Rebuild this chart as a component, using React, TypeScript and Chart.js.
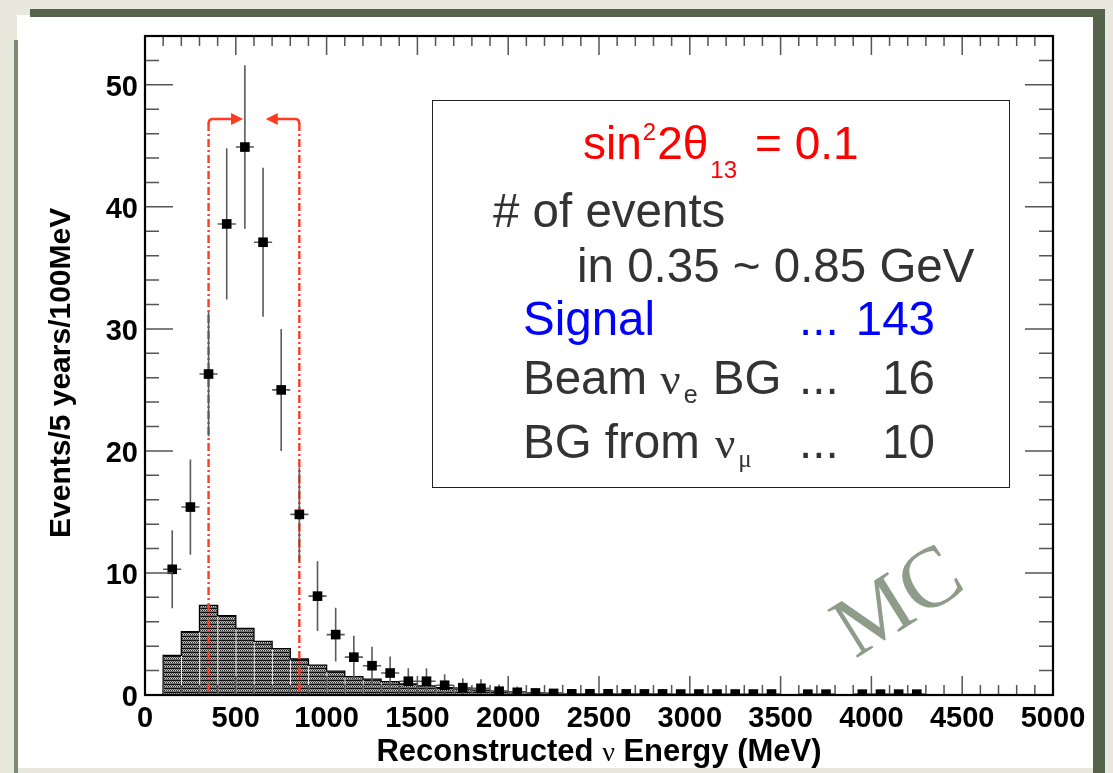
import React, { useEffect, useRef } from 'react';
import { Chart, registerables } from 'chart.js';

Chart.register(...registerables);

// ---------------- data ----------------
// background histogram (100 MeV bins, centers in MeV)
const bgBinCenters = [150, 250, 350, 450, 550, 650, 750, 850, 950, 1050, 1150, 1250, 1350, 1450, 1550, 1650, 1750, 1850, 1950, 2050, 2150, 2250, 2350, 2450];
const bgCounts = [3.25, 5.2, 7.35, 6.5, 5.45, 4.4, 3.8, 2.95, 2.45, 1.95, 1.5, 1.3, 1.1, 0.9, 0.75, 0.6, 0.5, 0.4, 0.32, 0.25, 0.2, 0.15, 0.12, 0.1];

// MC events (signal + background) with statistical errors
const evCenters = [150, 250, 350, 450, 550, 650, 750, 850, 950, 1050, 1150, 1250, 1350, 1450, 1550, 1650, 1750, 1850, 1950, 2050, 2150, 2250, 2350, 2450, 2550, 2650, 2750, 2850, 2950, 3050, 3150, 3250, 3350, 3450, 3650, 3750, 3950, 4050, 4150, 4250];
const evCounts = [10.3, 15.4, 26.3, 38.6, 44.9, 37.1, 25.0, 14.8, 8.1, 4.95, 3.1, 2.4, 1.8, 1.13, 1.13, 0.8, 0.6, 0.55, 0.31, 0.22, 0.17, 0.13, 0.1, 0.1, 0.1, 0.09, 0.09, 0.09, 0.08, 0.08, 0.08, 0.08, 0.08, 0.08, 0.07, 0.07, 0.07, 0.07, 0.07, 0.07];
const evErrors = [3.2, 3.9, 5.1, 6.2, 6.7, 6.1, 5.0, 3.85, 2.85, 2.2, 1.75, 1.55, 1.35, 1.07, 1.07, 0.9, 0.77, 0.74, 0.55, 0.47, 0.41, 0.36, 0.32, 0.32, 0.32, 0.3, 0.3, 0.3, 0.28, 0.28, 0.28, 0.28, 0.28, 0.28, 0.26, 0.26, 0.26, 0.26, 0.26, 0.26];
const BIN_HALF_WIDTH = 50;

// axes
const X_MIN = 0;
const X_MAX = 5000;
const Y_MIN = 0;
const Y_MAX = 54;
const xTickLabels = [0, 500, 1000, 1500, 2000, 2500, 3000, 3500, 4000, 4500, 5000];
const yTickLabels = [0, 10, 20, 30, 40, 50];
const X_MINOR_STEP = 100;
const Y_MINOR_STEP = 2;

// energy window annotation (MeV / events)
const CUT_LOW = 350;
const CUT_HIGH = 850;
const ARROW_LEVEL = 47.2;
const ARROW_TIP_LOW = 540;
const ARROW_TIP_HIGH = 665;

const FONT = '"Liberation Sans", Arial, sans-serif';
const SERIF = '"Liberation Serif", "Times New Roman", serif';

function makePattern(ctx: CanvasRenderingContext2D): CanvasPattern | string {
  const c = document.createElement('canvas');
  c.width = 4;
  c.height = 4;
  const p = c.getContext('2d');
  if (!p) return '#707070';
  p.fillStyle = '#111111';
  p.fillRect(0, 0, 4, 1);
  p.fillStyle = '#a8a8a8';
  p.fillRect(0, 1, 4, 1);
  p.fillStyle = '#5a5a5a';
  p.fillRect(1, 1, 1, 1);
  p.fillRect(3, 1, 1, 1);
  p.fillStyle = '#d0d0d0';
  p.fillRect(0, 2, 4, 1);
  p.fillStyle = '#2a2a2a';
  p.fillRect(0, 2, 1, 1);
  p.fillRect(2, 2, 1, 1);
  p.fillStyle = '#707070';
  p.fillRect(0, 3, 4, 1);
  return ctx.createPattern(c, 'repeat') || '#707070';
}

const drawSegments = (
  ctx: CanvasRenderingContext2D,
  x: number,
  y: number,
  segs: { t: string; font: string; dy?: number; gap?: number; color?: string }[],
  color: string
) => {
  let cx = x;
  segs.forEach((s) => {
    ctx.font = s.font;
    ctx.fillStyle = s.color || color;
    cx += s.gap || 0;
    ctx.fillText(s.t, cx, y + (s.dy || 0));
    cx += ctx.measureText(s.t).width;
  });
  return cx;
};

const rootPlugin = {
  id: 'rootStyle',
  afterDatasetDraw(chart: any, args: any) {
    if (args.index !== 0) return;
    const ctx: CanvasRenderingContext2D = chart.ctx;
    const xs = chart.scales.x;
    const ys = chart.scales.y;
    const area = chart.chartArea;
    const px = (v: number) => xs.getPixelForValue(v);
    const py = (v: number) => ys.getPixelForValue(v);

    // step outline of histogram
    const bars = chart.getDatasetMeta(0).data;
    ctx.save();
    ctx.strokeStyle = '#000';
    ctx.lineWidth = 1.3;
    ctx.beginPath();
    bars.forEach((b: any, i: number) => {
      const { x, y, base, width } = b.getProps(['x', 'y', 'base', 'width'], true);
      const l = x - width / 2;
      const r = x + width / 2;
      if (i === 0) {
        ctx.moveTo(l, base);
      }
      ctx.lineTo(l, y);
      ctx.lineTo(r, y);
      if (i === bars.length - 1) ctx.lineTo(r, base);
    });
    ctx.stroke();

    // energy window cuts
    ctx.strokeStyle = '#ff3a22';
    ctx.fillStyle = '#ff3a22';
    ctx.lineWidth = 2.4;
    const yA = py(ARROW_LEVEL);
    [
      [CUT_LOW, ARROW_TIP_LOW],
      [CUT_HIGH, ARROW_TIP_HIGH],
    ].forEach(([cut, tip]) => {
      const xc = px(cut);
      const xt = px(tip);
      const dir = Math.sign(xt - xc);
      ctx.setLineDash([8, 3, 2, 3]);
      ctx.beginPath();
      ctx.moveTo(xc, yA + 4);
      ctx.lineTo(xc, area.bottom);
      ctx.stroke();
      ctx.setLineDash([]);
      ctx.beginPath();
      ctx.moveTo(xc, yA + 5);
      ctx.quadraticCurveTo(xc, yA, xc + dir * 4, yA);
      ctx.lineTo(xt - dir * 10, yA);
      ctx.stroke();
      ctx.beginPath();
      ctx.moveTo(xt, yA);
      ctx.lineTo(xt - dir * 12, yA - 6);
      ctx.lineTo(xt - dir * 12, yA + 6);
      ctx.closePath();
      ctx.fill();
    });

    // error bars
    ctx.beginPath();
    ctx.rect(area.left, area.top, area.right - area.left, area.bottom - area.top);
    ctx.clip();
    ctx.strokeStyle = '#5a5a5a';
    ctx.lineWidth = 1.6;
    evCenters.forEach((c, i) => {
      const x = px(c);
      const y = py(evCounts[i]);
      ctx.beginPath();
      ctx.moveTo(px(c - BIN_HALF_WIDTH), y);
      ctx.lineTo(px(c + BIN_HALF_WIDTH), y);
      ctx.moveTo(x, py(evCounts[i] + evErrors[i]));
      ctx.lineTo(x, py(evCounts[i] - evErrors[i]));
      ctx.stroke();
    });
    ctx.restore();
  },
  afterDraw(chart: any) {
    const ctx: CanvasRenderingContext2D = chart.ctx;
    const xs = chart.scales.x;
    const ys = chart.scales.y;
    const { left, right, top, bottom } = chart.chartArea;
    const px = (v: number) => xs.getPixelForValue(v);
    const py = (v: number) => ys.getPixelForValue(v);
    ctx.save();

    // inside ticks
    ctx.strokeStyle = '#555';
    ctx.lineWidth = 1.5;
    ctx.beginPath();
    for (let v = X_MIN; v <= X_MAX; v += X_MINOR_STEP) {
      const len = xTickLabels.includes(v) ? 19 : 10;
      const x = px(v);
      ctx.moveTo(x, bottom);
      ctx.lineTo(x, bottom - len);
      ctx.moveTo(x, top);
      ctx.lineTo(x, top + len);
    }
    for (let v = Y_MIN; v <= Y_MAX; v += Y_MINOR_STEP) {
      const len = yTickLabels.includes(v) ? 28 : 14;
      const y = py(v);
      ctx.moveTo(left, y);
      ctx.lineTo(left + len, y);
      ctx.moveTo(right, y);
      ctx.lineTo(right - len, y);
    }
    ctx.stroke();

    // frame
    ctx.strokeStyle = '#000';
    ctx.lineWidth = 2.2;
    ctx.strokeRect(left, top, right - left, bottom - top);

    // axis titles
    ctx.fillStyle = '#000';
    ctx.textBaseline = 'alphabetic';
    ctx.textAlign = 'left';
    const boldX = `bold 31px ${FONT}`;
    const segs = [
      { t: 'Reconstructed ', font: boldX },
      { t: 'ν', font: `28px ${SERIF}` },
      { t: ' Energy (MeV)', font: boldX },
    ];
    let total = 0;
    segs.forEach((s) => {
      ctx.font = s.font;
      total += ctx.measureText(s.t).width;
    });
    drawSegments(ctx, (left + right) / 2 - total / 2, 761, segs, '#000');

    ctx.save();
    ctx.translate(70, 538);
    ctx.rotate(-Math.PI / 2);
    ctx.font = `bold 30px ${FONT}`;
    ctx.fillText('Events/5 years/100MeV', 0, 0);
    ctx.restore();

    // info box
    ctx.fillStyle = '#fff';
    ctx.fillRect(432, 100, 577, 387);
    ctx.strokeStyle = '#222';
    ctx.lineWidth = 1;
    ctx.strokeRect(432.5, 100.5, 577, 387);

    const red = `46px ${FONT}`;
    const big = `47.5px ${FONT}`;
    const small = `24px ${FONT}`;
    drawSegments(
      ctx,
      583,
      159,
      [
        { t: 'sin', font: red },
        { t: '2', font: small, dy: -19, gap: 1 },
        { t: '2θ', font: red, gap: 1 },
        { t: '13', font: small, dy: 19, gap: 2 },
        { t: '= 0.1', font: red, gap: 18 },
      ],
      '#ff0000'
    );

    const grey = '#333333';
    ctx.fillStyle = grey;
    ctx.font = big;
    ctx.fillText('# of events', 493, 227);
    ctx.fillText('in 0.35 ~ 0.85 GeV', 577, 282);

    ctx.fillStyle = '#0000ff';
    ctx.fillText('Signal', 523, 335);
    ctx.fillText('...', 799, 335);
    ctx.textAlign = 'right';
    ctx.fillText('143', 935, 335);
    ctx.textAlign = 'left';

    const greek = `45px ${SERIF}`;
    const greekSub = `25px ${SERIF}`;
    drawSegments(
      ctx,
      523,
      394,
      [
        { t: 'Beam ', font: big },
        { t: 'ν', font: greek },
        { t: 'e', font: `25px ${FONT}`, dy: 9, gap: 3 },
        { t: ' BG', font: big, gap: 2 },
      ],
      grey
    );
    drawSegments(
      ctx,
      523,
      458,
      [
        { t: 'BG from ', font: big },
        { t: 'ν', font: greek, gap: 2 },
        { t: 'μ', font: greekSub, dy: 9, gap: 3 },
      ],
      grey
    );
    ctx.font = big;
    ctx.fillStyle = grey;
    ctx.fillText('...', 799, 394);
    ctx.fillText('...', 799, 458);
    ctx.textAlign = 'right';
    ctx.fillText('16', 935, 394);
    ctx.fillText('10', 935, 458);
    ctx.textAlign = 'left';

    // MC watermark
    ctx.save();
    ctx.translate(855, 659);
    ctx.rotate((-32 * Math.PI) / 180);
    ctx.font = `86px ${SERIF}`;
    ctx.fillStyle = '#8e9c89';
    ctx.fillText('MC', 0, 0);
    ctx.restore();

    ctx.restore();
  },
};

export default function App() {
  const canvasRef = useRef<HTMLCanvasElement | null>(null);

  useEffect(() => {
    const canvas = canvasRef.current;
    if (!canvas) return;
    const ctx = canvas.getContext('2d');
    if (!ctx) return;
    const pattern = makePattern(ctx);

    const tickFont = { family: FONT, size: 29, weight: 'bold' as const };

    const chart = new Chart(ctx, {
      type: 'bar',
      data: {
        datasets: [
          {
            type: 'bar',
            label: 'Background',
            data: bgBinCenters.map((x, i) => ({ x, y: bgCounts[i] })),
            backgroundColor: pattern as any,
            borderColor: 'rgba(255,255,255,0.6)',
            borderWidth: { left: 1, right: 0, top: 0, bottom: 0 },
            barPercentage: 1,
            categoryPercentage: 1,
            order: 2,
          } as any,
          {
            type: 'scatter',
            label: 'MC events',
            data: evCenters.map((x, i) => ({ x, y: evCounts[i] })),
            pointStyle: 'rect',
            pointRadius: 6.8,
            backgroundColor: '#000',
            borderColor: '#000',
            borderWidth: 0,
            order: 1,
          } as any,
        ],
      },
      options: {
        responsive: false,
        animation: false,
        devicePixelRatio: 1,
        layout: { padding: { top: 36, right: 60, bottom: 0, left: 0 } },
        plugins: {
          legend: { display: false },
          tooltip: { enabled: false },
        },
        scales: {
          x: {
            type: 'linear',
            min: X_MIN,
            max: X_MAX,
            offset: false,
            grid: { display: false, drawTicks: false },
            border: { display: false },
            afterBuildTicks: (s: any) => {
              s.ticks = xTickLabels.map((v) => ({ value: v }));
            },
            ticks: {
              autoSkip: false,
              maxRotation: 0,
              padding: 7,
              color: '#000',
              font: tickFont,
              callback: (v: any) => String(v),
            },
            afterFit: (s: any) => {
              s.height = 78;
            },
          },
          y: {
            type: 'linear',
            min: Y_MIN,
            max: Y_MAX,
            grid: { display: false, drawTicks: false },
            border: { display: false },
            afterBuildTicks: (s: any) => {
              s.ticks = yTickLabels.map((v) => ({ value: v }));
            },
            ticks: {
              padding: 7,
              labelOffset: 3,
              color: '#000',
              font: tickFont,
              callback: (v: any) => String(v),
            },
            afterFit: (s: any) => {
              s.width = 145;
            },
          },
        },
      } as any,
      plugins: [rootPlugin],
    });

    return () => {
      chart.destroy();
    };
  }, []);

  return (
    <div
      style={{
        position: 'fixed',
        left: 0,
        top: 0,
        width: 1113,
        height: 773,
        overflow: 'hidden',
        background: '#e9e8dd',
      }}
    >
      <div style={{ position: 'absolute', left: 17, top: 15, width: 1078, height: 753, background: '#ffffff' }} />
      <div style={{ position: 'absolute', left: 30, top: 9, width: 1075, height: 8, background: '#55634b' }} />
      <div style={{ position: 'absolute', left: 1093, top: 10, width: 12, height: 763, background: '#55634b' }} />
      <div style={{ position: 'absolute', left: 14, top: 40, width: 4, height: 733, background: '#7d8a72' }} />
      <canvas ref={canvasRef} width={1113} height={773} style={{ position: 'absolute', left: 0, top: 0 }} />
    </div>
  );
}
